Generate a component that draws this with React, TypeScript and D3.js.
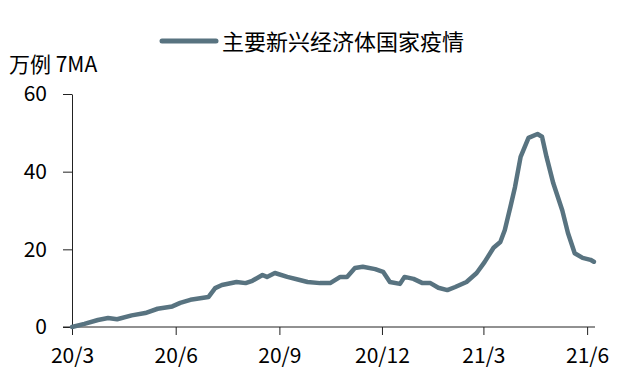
import React, { useRef, useEffect } from "react";
import { select, scaleLinear, scaleTime, axisLeft, axisBottom, line, timeFormat } from "d3";

// 7-day moving average, 万例
const dates = [
  "2020-03-01", "2020-03-12", "2020-03-24", "2020-04-02", "2020-04-10", "2020-04-23",
  "2020-05-05", "2020-05-16", "2020-05-29", "2020-06-05", "2020-06-14", "2020-06-30",
  "2020-07-06", "2020-07-12", "2020-07-25", "2020-08-02", "2020-08-08", "2020-08-17",
  "2020-08-21", "2020-08-28", "2020-09-08", "2020-09-19", "2020-09-26", "2020-10-07",
  "2020-10-16", "2020-10-25", "2020-10-31", "2020-11-07", "2020-11-14", "2020-11-25",
  "2020-12-02", "2020-12-08", "2020-12-17", "2020-12-21", "2020-12-29", "2021-01-06",
  "2021-01-13", "2021-01-20", "2021-01-28", "2021-02-04", "2021-02-14", "2021-02-23",
  "2021-03-02", "2021-03-10", "2021-03-16", "2021-03-20", "2021-03-25", "2021-03-29",
  "2021-04-03", "2021-04-10", "2021-04-18", "2021-04-22", "2021-04-26", "2021-05-02",
  "2021-05-10", "2021-05-15", "2021-05-21", "2021-05-28", "2021-06-04", "2021-06-07",
];
const cases = [
  0, 0.8, 1.8, 2.3, 2.0, 3.0,
  3.6, 4.7, 5.3, 6.2, 7.0, 7.7,
  10.0, 10.8, 11.6, 11.3, 11.9, 13.4,
  12.9, 13.9, 12.9, 12.1, 11.6, 11.3,
  11.3, 12.9, 12.9, 15.2, 15.5, 14.9,
  14.2, 11.6, 11.1, 12.9, 12.4, 11.3,
  11.3, 10.1, 9.5, 10.3, 11.6, 13.9,
  16.7, 20.4, 21.9, 25.0, 31.0, 36.0,
  43.8, 48.7, 49.7, 49.0, 43.8, 37.0,
  30.0, 24.2, 19.0, 17.8, 17.3, 16.8,
];
const xTicks = ["2020-03-01", "2020-06-01", "2020-09-01", "2020-12-01", "2021-03-01", "2021-06-01"];
const yTicks = [0, 20, 40, 60];
const seriesName = "主要新兴经济体国家疫情";
const unitLabel = "万例 7MA";

const W = 627;
const H = 392;
const left = 72;
const right = 595;
const top = 94;
const bottom = 327;
const lineColor = "#587380";
const font = "'Noto Sans CJK SC', 'Noto Sans', sans-serif";

function App() {
  const svgRef = useRef<SVGSVGElement>(null);

  useEffect(() => {
    const svg = select(svgRef.current);
    const parse = (s: string) => new Date(s + "T00:00:00");
    const data = dates.map((d, i) => ({ date: parse(d), value: cases[i] }));

    const x = scaleTime()
      .domain([parse("2020-03-01"), parse("2021-06-08")])
      .range([left, right]);
    const y = scaleLinear().domain([0, 60]).range([bottom, top]);

    // y axis
    const yAxis = axisLeft(y).tickValues(yTicks).tickSizeInner(9).tickSizeOuter(0).tickPadding(16);
    const gy = svg.select<SVGGElement>(".y-axis").attr("transform", `translate(${left},0)`).call(yAxis);
    gy.select(".domain").attr("stroke", "#222");
    gy.selectAll("line").attr("stroke", "#222");
    gy.selectAll("text").attr("font-size", 21).attr("font-family", font).attr("fill", "#000");

    // x axis, quarterly ticks
    const xAxis = axisBottom(x)
      .tickValues(xTicks.map(parse))
      .tickFormat((d) => timeFormat("%y/%-m")(d as Date))
      .tickSizeInner(8)
      .tickSizeOuter(0)
      .tickPadding(13);
    const gx = svg.select<SVGGElement>(".x-axis").attr("transform", `translate(0,${bottom})`).call(xAxis);
    gx.select(".domain").attr("stroke", "#222").attr("d", `M${left - 9},0H${right}`);
    gx.selectAll("line").attr("stroke", "#222");
    gx.selectAll("text").attr("font-size", 21).attr("font-family", font).attr("fill", "#000");

    const path = line<{ date: Date; value: number }>()
      .x((d) => x(d.date))
      .y((d) => y(d.value));

    svg
      .selectAll(".series")
      .data([data])
      .join("path")
      .attr("class", "series")
      .attr("d", path)
      .attr("fill", "none")
      .attr("stroke", lineColor)
      .attr("stroke-width", 4.5)
      .attr("stroke-linejoin", "round")
      .attr("stroke-linecap", "round");
  }, []);

  return (
    <svg
      ref={svgRef}
      width={W}
      height={H}
      style={{ position: "absolute", left: 0, top: 0, background: "#fff" }}
    >
      <g className="x-axis" />
      <g className="y-axis" />
      {/* legend */}
      <line x1={162} x2={216} y1={41} y2={41} stroke={lineColor} strokeWidth={5} strokeLinecap="round" />
      <text x={222} y={50} fontSize={22} fontFamily={font} fill="#000">
        {seriesName}
      </text>
      <text x={9} y={72} fontSize={21} fontFamily={font} fill="#000">
        {unitLabel}
      </text>
    </svg>
  );
}

export default App;
